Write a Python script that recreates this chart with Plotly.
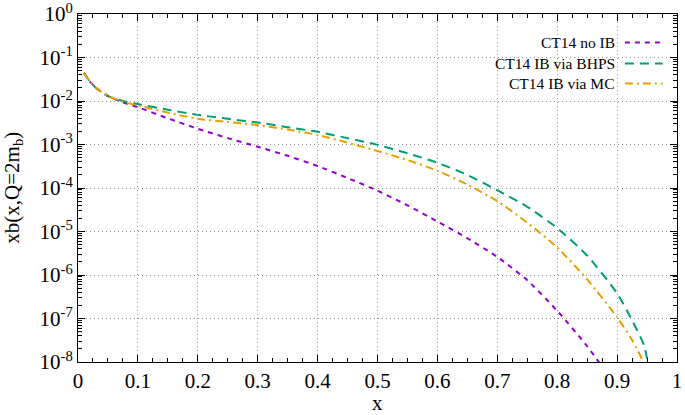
import plotly.graph_objects as go

# ---- data ----
x_vals = [0.01, 0.02, 0.03, 0.05, 0.075, 0.1, 0.15, 0.2, 0.25, 0.3, 0.35, 0.4,
          0.45, 0.5, 0.55, 0.6, 0.65, 0.7, 0.75, 0.8, 0.85, 0.9, 0.925, 0.945, 0.955]

no_ib = [4.4e-2, 2.8e-2, 2.0e-2, 1.3e-2, 9.3e-3, 7.2e-3, 4.0e-3, 2.3e-3, 1.4e-3,
         8.9e-4, 5.5e-4, 3.2e-4, 1.7e-4, 8.7e-5, 4.0e-5, 1.7e-5, 7.0e-6, 2.6e-6,
         7.6e-7, 1.5e-7, 2.3e-8, 2.5e-9, 6.0e-10, 1.5e-10, 6.0e-11]

bhps = [4.4e-2, 2.8e-2, 2.0e-2, 1.3e-2, 1.0e-2, 8.5e-3, 6.3e-3, 4.8e-3, 3.9e-3,
        3.2e-3, 2.5e-3, 1.95e-3, 1.4e-3, 9.8e-4, 6.3e-4, 3.8e-4, 2.0e-4, 8.9e-5,
        3.7e-5, 1.2e-5, 2.8e-6, 3.8e-7, 9.1e-8, 2.4e-8, 5.0e-9]

mc = [4.4e-2, 2.8e-2, 2.0e-2, 1.3e-2, 9.6e-3, 7.9e-3, 5.4e-3, 3.9e-3, 3.3e-3,
      2.8e-3, 2.2e-3, 1.66e-3, 1.1e-3, 7.1e-4, 4.4e-4, 2.5e-4, 1.2e-4, 5.0e-5,
      1.6e-5, 4.3e-6, 7.9e-7, 1.07e-7, 3.2e-8, 9.0e-9, 2.0e-9]

series_names = ["CT14 no IB", "CT14 IB via BHPS", "CT14 IB via MC"]
series_colors = ["#9400d3", "#009e73", "#e69f00"]
series_dash = ["5px,5px", "9px,6px", "8px,4px,2px,4px"]

x_ticks = [0, 0.1, 0.2, 0.3, 0.4, 0.5, 0.6, 0.7, 0.8, 0.9, 1]
x_ticktext = ["0", "0.1", "0.2", "0.3", "0.4", "0.5", "0.6", "0.7", "0.8", "0.9", "1"]
y_exponents = [-8, -7, -6, -5, -4, -3, -2, -1, 0]

FONT = "Liberation Serif, Times New Roman, serif"

fig = go.Figure()
for name, ys, col, dash in zip(series_names, [no_ib, bhps, mc], series_colors, series_dash):
    fig.add_trace(go.Scatter(x=x_vals, y=ys, mode="lines", name=name,
                             line=dict(color=col, width=2, dash=dash, shape="spline", smoothing=0.6),
                             showlegend=False, hoverinfo="skip"))

# custom legend: right-aligned text, sample line on the right
leg_y = [0.918, 0.858, 0.800]
for name, col, dash, yy in zip(series_names, series_colors, series_dash, leg_y):
    fig.add_annotation(x=0.899, y=yy, xref="paper", yref="paper", text=name,
                       showarrow=False, xanchor="right", yanchor="middle",
                       font=dict(family=FONT, size=15.5, color="black"))
    fig.add_shape(type="line", xref="paper", yref="paper", x0=0.913, x1=0.976, y0=yy, y1=yy,
                  line=dict(color=col, width=2, dash=dash))

# axis titles
fig.add_annotation(x=-0.109, y=0.5, xref="paper", yref="paper", text="xb(x,Q=2m<sub>b</sub>)",
                   textangle=-90, showarrow=False, xanchor="center", yanchor="middle",
                   font=dict(family=FONT, size=21, color="black"))
fig.add_annotation(x=0.5, y=-0.119, xref="paper", yref="paper", text="x",
                   showarrow=False, xanchor="center", yanchor="middle",
                   font=dict(family=FONT, size=21, color="black"))

minor_y = []
for e in y_exponents[:-1]:
    for k in range(2, 10):
        minor_y.append(k * 10 ** e)

GRID = "#909090"
fig.update_xaxes(range=[0, 1], tickvals=x_ticks, ticktext=x_ticktext,
                 showline=True, linecolor="black", linewidth=1, mirror="ticks",
                 ticks="inside", ticklen=7, tickcolor="black",
                 minor=dict(dtick=0.025, ticks="inside", ticklen=4, tickcolor="black", showgrid=False),
                 showgrid=True, gridcolor=GRID, griddash="1px,3px", gridwidth=1,
                 zeroline=False, ticklabeloverflow="allow", automargin=False,
                 tickfont=dict(family=FONT, size=21, color="black"))

fig.update_yaxes(type="log", range=[-8, 0],
                 tickvals=[10 ** e for e in y_exponents],
                 ticktext=["10<sup>%d</sup>" % e for e in y_exponents],
                 showline=True, linecolor="black", linewidth=1, mirror="ticks",
                 ticks="inside", ticklen=7, tickcolor="black",
                 minor=dict(tickmode="array", tickvals=minor_y, ticks="inside", ticklen=4,
                            tickcolor="black", showgrid=False),
                 showgrid=True, gridcolor=GRID, griddash="1px,3px", gridwidth=1,
                 zeroline=False, ticklabeloverflow="allow", automargin=False,
                 tickfont=dict(family=FONT, size=21, color="black"))

fig.update_layout(width=685, height=415, plot_bgcolor="white", paper_bgcolor="white",
                  margin=dict(l=77.5, r=7.5, t=13.5, b=53),
                  font=dict(family=FONT, color="black"))

fig.write_html("out.html", config={"displayModeBar": False},
               post_script="document.body.style.margin='0';")
